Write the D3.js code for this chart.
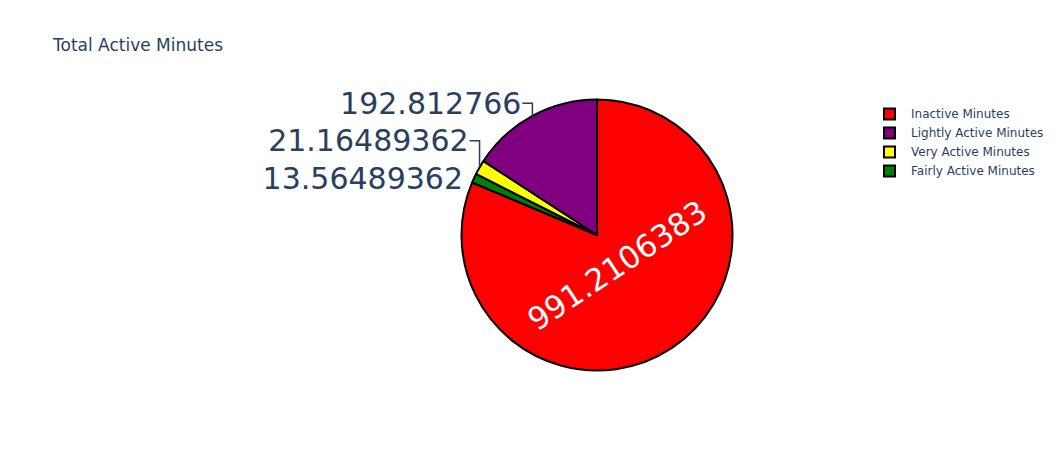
<!DOCTYPE html>
<html>
<head>
<meta charset="utf-8">
<script src="https://cdn.jsdelivr.net/npm/d3@7"></script>
<style>
  body { margin: 0; background: white; }
  svg { display: block; font-family: "DejaVu Sans", Verdana, sans-serif; }
</style>
</head>
<body>
<script>
// Data (drawn clockwise from 12 o'clock in this order)
const labels = ["Inactive Minutes", "Fairly Active Minutes", "Very Active Minutes", "Lightly Active Minutes"];
const values = [991.2106383, 13.56489362, 21.16489362, 192.812766];
const colors = ["#ff0000", "#008000", "#ffff00", "#800080"];
const valueText = ["991.2106383", "13.56489362", "21.16489362", "192.812766"];
// legend order (largest first)
const legendOrder = ["Inactive Minutes", "Lightly Active Minutes", "Very Active Minutes", "Fairly Active Minutes"];

const width = 1060, height = 450;
const cx = 597, cy = 235, radius = 135.5;
const textColor = "#2a3f5f";
const fontSize = 30;

const svg = d3.select("body").append("svg")
  .attr("width", width)
  .attr("height", height);

svg.append("text")
  .attr("x", 53)
  .attr("y", 51)
  .attr("font-size", 17)
  .attr("fill", textColor)
  .text("Total Active Minutes");

const slices = labels.map((l, i) => ({ label: l, value: values[i], color: colors[i], text: valueText[i] }));

const pie = d3.pie().sort(null).value((d) => d.value);
const arcs = pie(slices);
const arc = d3.arc().innerRadius(0).outerRadius(radius);

const g = svg.append("g").attr("transform", `translate(${cx},${cy})`);

g.selectAll("path")
  .data(arcs)
  .join("path")
  .attr("d", arc)
  .attr("fill", (d) => d.data.color)
  .attr("stroke", "#000")
  .attr("stroke-width", 2)
  .attr("stroke-linejoin", "round");

// Big slice gets its value inside, tangential
const inside = arcs.filter((d) => d.endAngle - d.startAngle > 1);
inside.forEach((d) => {
  const mid = (d.startAngle + d.endAngle) / 2;
  const dist = radius * 0.27;
  const x = Math.sin(mid) * dist, y = -Math.cos(mid) * dist;
  let rot = (mid * 180) / Math.PI;
  rot = rot > 90 && rot < 270 ? rot - 180 : rot;
  g.append("text")
    .attr("transform", `translate(${x},${y}) rotate(${rot})`)
    .attr("text-anchor", "middle")
    .attr("dy", "0.35em")
    .attr("font-size", fontSize + 1)
    .attr("fill", "white")
    .text(d.data.text);
});

// Small slices: labels outside, pushed apart vertically with leader lines
const outside = arcs
  .filter((d) => d.endAngle - d.startAngle <= 1)
  .map((d) => {
    const mid = (d.startAngle + d.endAngle) / 2;
    const px = Math.sin(mid) * radius, py = -Math.cos(mid) * radius;
    return { d, px, py, ly: py };
  })
  .sort((a, b) => b.py - a.py);

const lineH = fontSize * 1.25;
for (let i = 1; i < outside.length; i++) {
  outside[i].ly = Math.min(outside[i].ly, outside[i - 1].ly - lineH);
}

outside.forEach((o) => {
  const left = o.px < 0;
  const tx = o.px + (left ? -10 : 10);
  if (Math.abs(o.ly - o.py) > 1) {
    g.append("path")
      .attr("d", `M${o.px},${o.py}V${o.ly}H${tx}`)
      .attr("fill", "none")
      .attr("stroke", textColor)
      .attr("stroke-width", 1.5);
  }
  g.append("text")
    .attr("x", tx + (left ? -1 : 1))
    .attr("y", o.ly)
    .attr("dy", "0.35em")
    .attr("text-anchor", left ? "end" : "start")
    .attr("font-size", fontSize)
    .attr("fill", textColor)
    .text(o.d.data.text);
});

// Legend
const legend = svg.append("g").attr("transform", "translate(883,114)");
const items = legend.selectAll("g")
  .data(legendOrder)
  .join("g")
  .attr("transform", (d, i) => `translate(0,${i * 19})`);

items.append("rect")
  .attr("x", 1)
  .attr("y", -5.5)
  .attr("width", 11)
  .attr("height", 11)
  .attr("fill", (d) => colors[labels.indexOf(d)])
  .attr("stroke", "#000")
  .attr("stroke-width", 2);

items.append("text")
  .attr("x", 28)
  .attr("dy", "0.35em")
  .attr("font-size", 12)
  .attr("fill", textColor)
  .text((d) => d);
</script>
</body>
</html>
